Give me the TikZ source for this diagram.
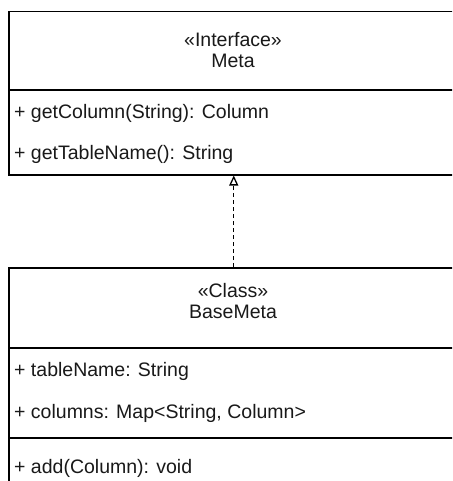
\documentclass[tikz,border=0pt]{standalone}
\usepackage{fontspec}
\setmainfont{Liberation Sans}
\usetikzlibrary{arrows.meta}
\begin{document}
\begin{tikzpicture}[x=1pt,y=-1pt,
  umlbox/.style={draw=black, line width=1.5pt, anchor=north west, inner sep=0pt,
    minimum width=450pt, fill=white},
  divider/.style={draw=black, line width=1.5pt},
  label/.style={inner sep=0pt, font=\fontsize{19.5pt}{21pt}\selectfont, text=black!90},
  member/.style={label, anchor=base west},
  heading/.style={label, anchor=base},
  realize/.style={draw=black, line width=1.3pt, dash pattern=on 4pt off 3pt,
    -{Triangle[open, width=9pt, length=10pt, line width=1.3pt, fill=white]}}
]
\useasboundingbox (0,0) rectangle (452,481);
\clip (0,0) rectangle (452,481);

% Interface Meta
\node[umlbox, minimum height=163pt] (meta) at (8,11) {};
\node[heading] (metaster) at (233,47) {«Interface»};
\node[heading] (metaname) at (233,68) {Meta};
\draw[divider] (meta.west |- 0,90) -- (meta.east |- 0,90);
\node[member] (getcol) at (14,119) {+ getColumn(String): Column};
\node[member] (gettab) at (14,160) {+ getTableName(): String};

% Class BaseMeta
\node[umlbox, minimum height=220pt] (base) at (8,267) {};
\node[heading] (baseser) at (233,297) {«Class»};
\node[heading] (basename) at (233,318) {BaseMeta};
\draw[divider] (base.west |- 0,348) -- (base.east |- 0,348);
\node[member] (tname) at (14,376) {+ tableName: String};
\node[member] (cols) at (14,418) {+ columns: Map<String, Column>};
\draw[divider] (base.west |- 0,438) -- (base.east |- 0,438);
\node[member] (addm) at (14,473) {+ add(Column): void};

% Realization
\draw[realize] (base.north) -- (meta.south);
\end{tikzpicture}
\end{document}
